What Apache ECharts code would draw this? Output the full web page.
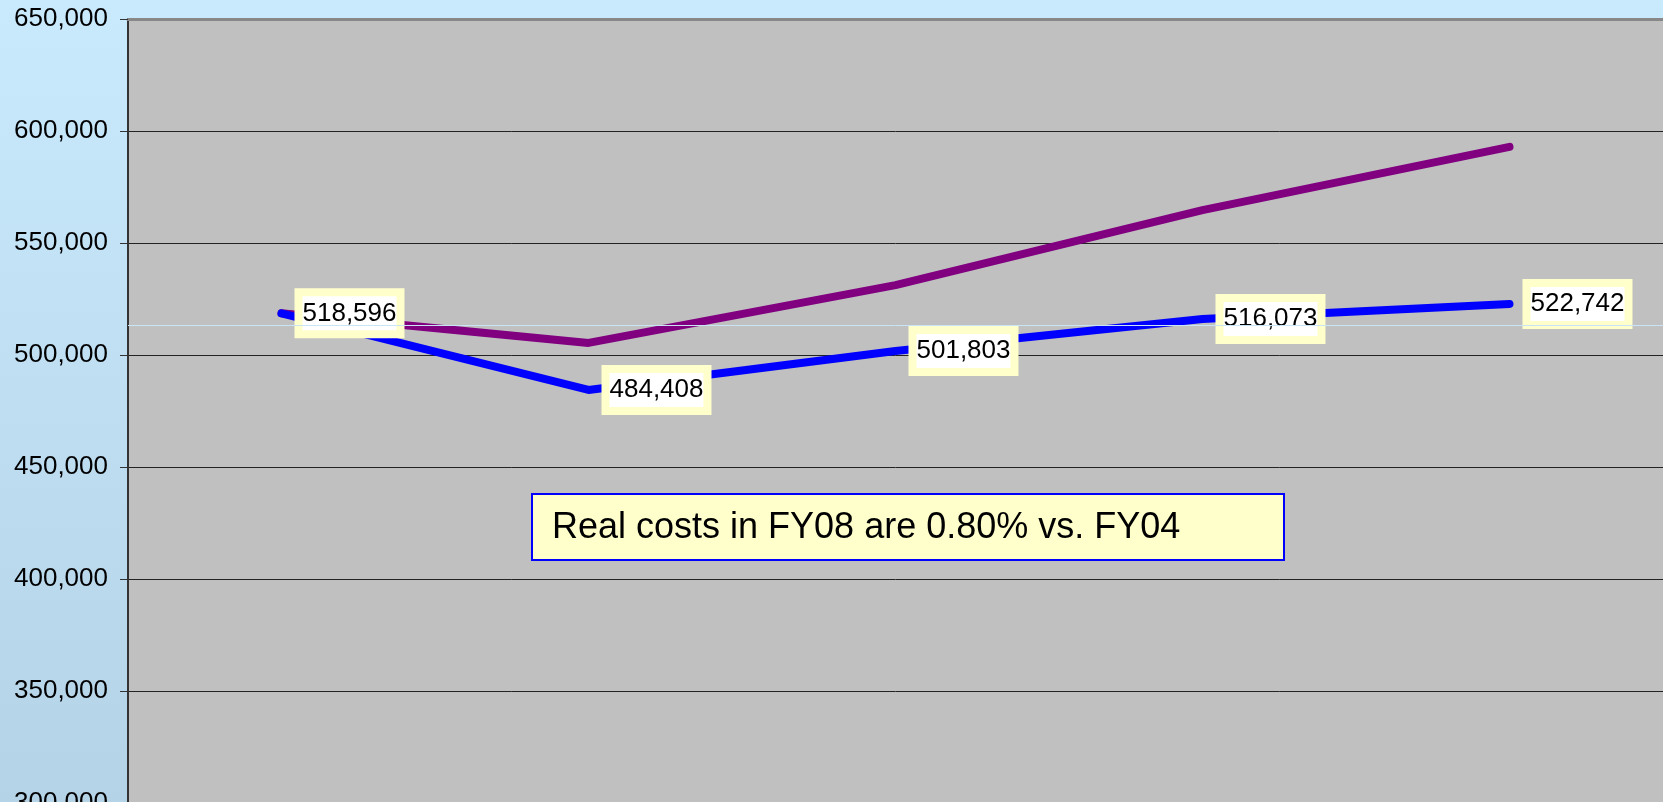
<!DOCTYPE html>
<html>
<head>
<meta charset="utf-8">
<script src="https://cdn.jsdelivr.net/npm/echarts@6/dist/echarts.min.js"></script>
<style>
    html, body { margin: 0; padding: 0; }
    #chart { width: 1663px; height: 802px; }
</style>
</head>
<body>
<div id="chart"></div>
<script>
const years = ['FY04', 'FY05', 'FY06', 'FY07', 'FY08'];
const realCosts = [518596, 484408, 501803, 516073, 522742];
const nominalCosts = [518596, 505400, 531200, 564700, 592900];
const refLine = 513400;
const yTicks = { min: 300000, max: 650000, step: 50000 };
const note = 'Real costs in FY08 are 0.80% vs. FY04';

const FONT = 'Arial, "Liberation Sans", sans-serif';
const fmt = v => v.toLocaleString('en-US');

const chart = echarts.init(document.getElementById('chart'));

const option = {
    backgroundColor: {
        type: 'linear', x: 0, y: 0, x2: 0, y2: 1,
        colorStops: [
            {offset: 0, color: '#c9e9fd'},
            {offset: 1, color: '#b5d3e6'}
        ]
    },
    animation: false,
    grid: {
        left: 128,
        right: 0,
        top: 19,
        bottom: -1,
        outerBoundsMode: 'none',
        containLabel: false,
        show: true,
        backgroundColor: '#c0c0c0',
        borderWidth: 0
    },
    xAxis: {
        type: 'category',
        position: 'top',
        data: years,
        axisLine: {show: true, lineStyle: {color: '#888888', width: 3}},
        axisTick: {show: false},
        axisLabel: {show: false},
        splitLine: {show: false}
    },
    yAxis: {
        type: 'value',
        min: yTicks.min,
        max: yTicks.max,
        interval: yTicks.step,
        axisLine: {show: true, lineStyle: {color: '#333333', width: 2}},
        axisTick: {show: true, length: 8, lineStyle: {color: '#333333', width: 1}},
        axisLabel: {
            margin: 20,
            color: '#000',
            fontFamily: FONT,
            fontSize: 26,
            formatter: fmt
        },
        splitLine: {show: true, lineStyle: {color: '#222222', width: 1}}
    },
    graphic: [{
        type: 'group',
        left: 531,
        top: 493,
        children: [
            {
                type: 'rect',
                shape: {x: 0, y: 0, width: 752, height: 66},
                style: {fill: '#ffffcc', stroke: '#0000ff', lineWidth: 2}
            },
            {
                type: 'text',
                x: 20,
                y: 34,
                style: {
                    text: note,
                    fill: '#000',
                    font: '36px ' + FONT,
                    verticalAlign: 'middle'
                }
            }
        ]
    }],
    series: [
        {
            name: 'Nominal',
            type: 'line',
            data: nominalCosts,
            symbol: 'none',
            lineStyle: {color: '#800080', width: 8, cap: 'round', join: 'round'},
            itemStyle: {color: '#800080'},
            markLine: {
                silent: true,
                symbol: 'none',
                label: {show: false},
                lineStyle: {color: '#c8e4f5', width: 1, type: 'solid'},
                data: [{yAxis: refLine}]
            }
        },
        {
            name: 'Real',
            type: 'line',
            data: realCosts,
            symbol: 'circle',
            symbolSize: 2,
            lineStyle: {color: '#0000ff', width: 8, cap: 'round', join: 'round'},
            itemStyle: {color: '#0000ff'},
            label: {
                show: true,
                position: 'right',
                distance: 20,
                color: '#000',
                fontFamily: FONT,
                fontSize: 26,
                lineHeight: 30,
                backgroundColor: '#ffffff',
                borderColor: '#ffffcc',
                borderWidth: 8,
                padding: [2, 0],
                formatter: p => fmt(p.value)
            }
        }
    ]
};

chart.setOption(option);
</script>
</body>
</html>
